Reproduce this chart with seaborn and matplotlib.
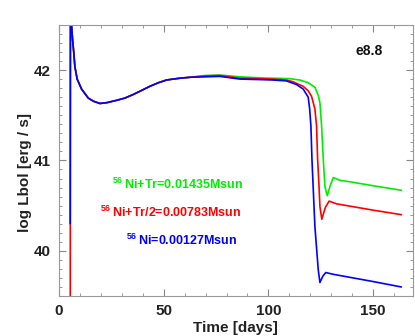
import matplotlib
matplotlib.use("Agg")
import matplotlib.pyplot as plt
import seaborn as sns
import pandas as pd
from matplotlib.ticker import MultipleLocator

# shared early part (days, log L)
early_days = [5.5, 6.0, 6.5, 7.1, 7.6, 8.7, 10.8, 14.0, 16.5, 19.6, 23.0, 27.5, 31.5, 35.5, 39.5,
              43.4, 47.5, 51.4, 54.5, 57.8, 62.5]
early_logl = [43.0, 42.5, 42.34, 42.19, 42.04, 41.90, 41.79, 41.69, 41.655, 41.63, 41.64, 41.665, 41.69, 41.73,
              41.775, 41.82, 41.86, 41.89, 41.90, 41.91, 41.92]

green_days = [70.0, 76.8, 86.4, 95.0, 102.0, 110.0, 115.0, 119.0, 122.2, 123.8, 124.6, 125.4, 126.2, 127.0,
              128.1, 129.5, 131.0, 134.2, 140.0, 150.0, 163.5]
green_logl = [41.94, 41.945, 41.925, 41.915, 41.91, 41.905, 41.89, 41.86, 41.81, 41.72, 41.64, 41.38, 41.01,
              40.71, 40.61, 40.72, 40.81, 40.78, 40.76, 40.72, 40.67]

red_days = [70.0, 76.8, 86.4, 95.0, 102.0, 108.6, 111.8, 116.6, 119.0, 120.6, 122.2, 123.0, 123.5, 124.1,
            124.6, 125.5, 127.2, 129.0, 132.5, 140.0, 150.0, 163.5]
red_logl = [41.935, 41.94, 41.91, 41.905, 41.90, 41.89, 41.87, 41.82, 41.77, 41.71, 41.57, 41.38, 41.01, 40.75,
            40.49, 40.35, 40.48, 40.55, 40.52, 40.49, 40.45, 40.40]

blue_days = [70.0, 76.8, 86.4, 95.0, 102.0, 108.6, 113.4, 116.6, 119.0, 119.7, 120.3, 120.8, 122.2, 123.8,
             124.6, 126.0, 127.4, 131.0, 135.8, 150.0, 163.5]
blue_logl = [41.925, 41.93, 41.90, 41.895, 41.89, 41.88, 41.84, 41.79, 41.70, 41.57, 41.38, 41.01, 40.27, 39.79,
             39.65, 39.72, 39.76, 39.74, 39.72, 39.66, 39.60]

labels = [r"$^{\mathbf{56}}\,$Ni+Tr=0.01435Msun",
          r"$^{\mathbf{56}}\,$Ni+Tr/2=0.00783Msun",
          r"$^{\mathbf{56}}\,$Ni=0.00127Msun"]
label_x = [87.8, 87.3, 85.0]
label_y = [40.73, 40.42, 40.11]

green = "#00ee00"
red = "#ff0000"
blue = "#0000ff"

sns.set_theme(style="ticks")
plt.rcParams['font.family'] = ['Liberation Sans', 'DejaVu Sans']
plt.rcParams['mathtext.fontset'] = 'custom'
plt.rcParams['mathtext.rm'] = 'Liberation Sans:bold'
plt.rcParams['mathtext.bf'] = 'Liberation Sans:bold'

green_df = pd.DataFrame({"day": early_days + green_days, "logl": early_logl + green_logl})
red_df = pd.DataFrame({"day": [5.4] + early_days + red_days, "logl": [39.0] + early_logl + red_logl})
blue_df = pd.DataFrame({"day": [5.4] + early_days + blue_days, "logl": [40.3] + early_logl + blue_logl})

fig = plt.figure(figsize=(4.15, 3.36), dpi=100)
ax = fig.add_axes([0.142, 0.119, 0.853, 0.807])

sns.lineplot(data=green_df, x="day", y="logl", sort=False, color=green, lw=1.2, ax=ax)
sns.lineplot(data=red_df, x="day", y="logl", sort=False, color=red, lw=1.2, ax=ax)
sns.lineplot(data=blue_df, x="day", y="logl", sort=False, color=blue, lw=1.2, ax=ax)

ax.set_xlim(0, 169)
ax.set_ylim(39.5, 42.5)
ax.xaxis.set_major_locator(MultipleLocator(50))
ax.xaxis.set_minor_locator(MultipleLocator(10))
ax.yaxis.set_major_locator(MultipleLocator(1))
ax.yaxis.set_minor_locator(MultipleLocator(0.1))
ax.tick_params(which='both', direction='in', top=True, right=True, color='#888888',
               labelcolor='#222222', labelsize=11)
ax.tick_params(which='major', length=5, width=0.8, pad=6)
ax.tick_params(which='minor', length=2.5, width=0.6)
for lab in ax.get_xticklabels() + ax.get_yticklabels():
    lab.set_fontweight('bold')
for sp in ax.spines.values():
    sp.set_color('#999999')
    sp.set_linewidth(0.8)

ax.set_xlabel("Time [days]", fontsize=11, fontweight='bold', color='#222222', labelpad=2)
ax.set_ylabel("log Lbol [erg / s]", fontsize=11, fontweight='bold', color='#222222')
ax.yaxis.set_label_coords(-0.075, 0.454)

ax.text(148, 42.21, "e8.8", fontsize=10, fontweight='bold', color='#111111', ha='center', va='center')
for txt, x, y, c in zip(labels, label_x, label_y, [green, red, blue]):
    ax.text(x, y, txt, fontsize=9, fontweight='bold', color=c, ha='right', va='center')

fig.savefig("out.png", dpi=100)
